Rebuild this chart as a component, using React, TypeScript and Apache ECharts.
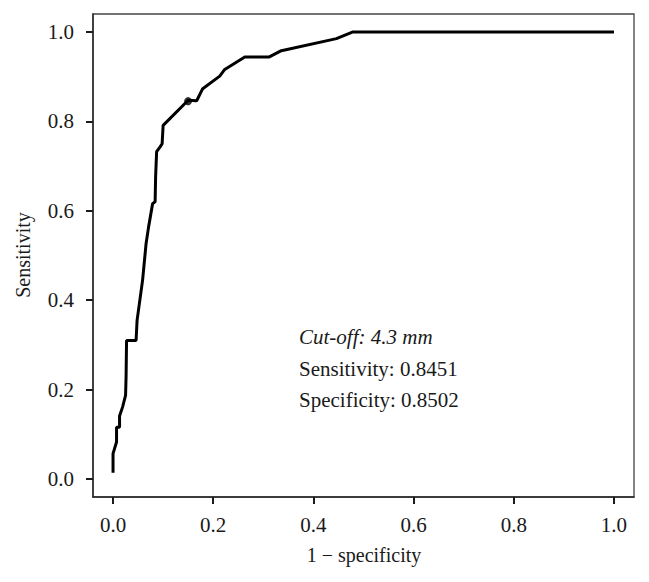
import React, { useEffect, useRef } from "react";
import * as echarts from "echarts";

const fpr = [0, 0, 0.007, 0.007, 0.013, 0.013, 0.019, 0.025, 0.026, 0.027, 0.046, 0.048, 0.059, 0.066, 0.071, 0.079, 0.084, 0.085, 0.087, 0.094, 0.098, 0.1, 0.15, 0.167, 0.179, 0.213, 0.223, 0.263, 0.312, 0.336, 0.446, 0.479, 1.0];
const tpr = [0.014, 0.057, 0.083, 0.116, 0.116, 0.141, 0.161, 0.187, 0.228, 0.31, 0.31, 0.355, 0.445, 0.527, 0.564, 0.616, 0.62, 0.676, 0.732, 0.743, 0.75, 0.791, 0.847, 0.846, 0.873, 0.901, 0.916, 0.944, 0.944, 0.958, 0.985, 1.0, 1.0];
const cutoffPoint = [0.1498, 0.8451];
const tickValues = [0, 0.2, 0.4, 0.6, 0.8, 1.0];
const annotationLines = ["Cut-off: 4.3 mm", "Sensitivity: 0.8451", "Specificity: 0.8502"];
const xTitle = "1 \u2212 specificity";
const yTitle = "Sensitivity";
const AXIS_MIN = -0.04;
const AXIS_MAX = 1.04;

const FONT = "'Liberation Serif', 'Times New Roman', serif";

export default function App() {
  const ref = useRef<HTMLDivElement>(null);
  useEffect(() => {
    if (!ref.current) return;
    const chart = echarts.init(ref.current, undefined, { renderer: "svg" });
    const axisCommon = {
      type: "value",
      min: AXIS_MIN,
      max: AXIS_MAX,
      splitLine: { show: false },
      axisLine: { show: true, onZero: false, lineStyle: { color: "#2a2a2a", width: 1.5 } },
      axisTick: { show: true, inside: false, length: 7, customValues: tickValues, lineStyle: { color: "#1a1a1a", width: 2 } },
      axisLabel: {
        show: true,
        customValues: tickValues,
        formatter: (v: number) => v.toFixed(1),
        fontFamily: FONT,
        fontSize: 21,
        color: "#1a1a1a",
        margin: 17,
      },
    };
    chart.setOption({
      animation: false,
      grid: { left: 93, top: 14, right: 15, bottom: 85, show: true, borderColor: "#444", borderWidth: 1.3, backgroundColor: "transparent" },
      xAxis: { ...axisCommon, position: "bottom" },
      yAxis: { ...axisCommon, position: "left", axisLabel: { ...axisCommon.axisLabel, margin: 19 } },
      series: [
        {
          type: "line",
          data: fpr.map((x, i) => [x, tpr[i]]),
          showSymbol: false,
          symbol: "none",
          lineStyle: { color: "#000", width: 3 },
        },
        {
          type: "scatter",
          data: [cutoffPoint],
          symbol: "circle",
          symbolSize: 8,
          itemStyle: { color: "#000" },
        },
      ],
      graphic: [
        {
          type: "text",
          x: 364,
          y: 555,
          style: { text: xTitle, font: `20px ${FONT}`, fill: "#1a1a1a", textAlign: "center", textVerticalAlign: "middle" },
        },
        {
          type: "text",
          x: 23,
          y: 255,
          rotation: Math.PI / 2,
          style: { text: yTitle, font: `20px ${FONT}`, fill: "#1a1a1a", textAlign: "center", textVerticalAlign: "middle" },
        },
        {
          type: "text",
          x: 299,
          y: 337,
          style: { text: annotationLines[0], font: `italic 21px ${FONT}`, fill: "#1a1a1a", textAlign: "left", textVerticalAlign: "middle" },
        },
        {
          type: "text",
          x: 299,
          y: 369,
          style: { text: annotationLines[1], font: `21px ${FONT}`, fill: "#1a1a1a", textAlign: "left", textVerticalAlign: "middle" },
        },
        {
          type: "text",
          x: 299,
          y: 400,
          style: { text: annotationLines[2], font: `21px ${FONT}`, fill: "#1a1a1a", textAlign: "left", textVerticalAlign: "middle" },
        },
      ],
    });
    return () => chart.dispose();
  }, []);
  return <div ref={ref} style={{ position: "absolute", left: 0, top: 0, width: 649, height: 582, background: "#fff" }} />;
}
